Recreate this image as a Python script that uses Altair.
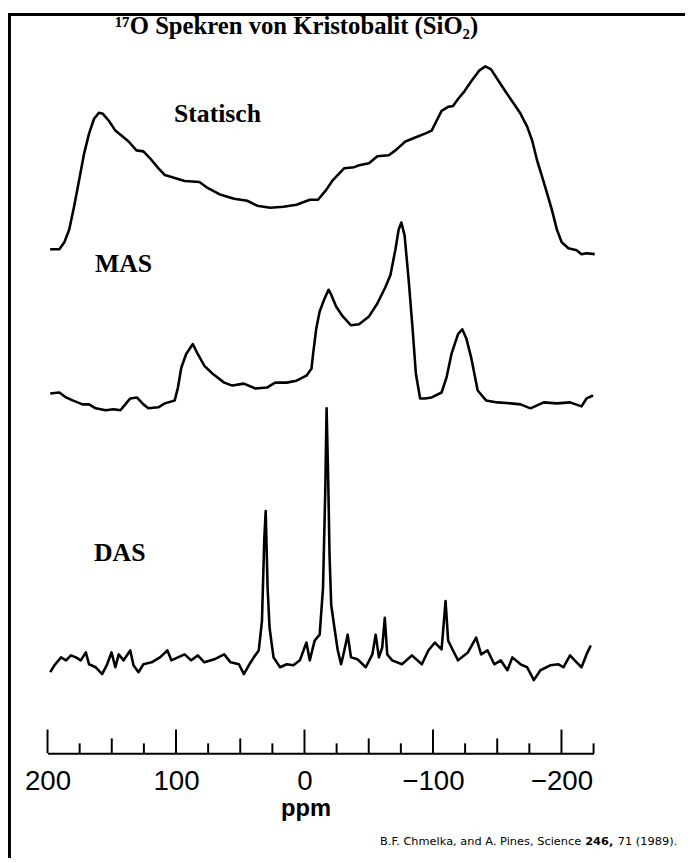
import altair as alt
import pandas as pd

# ---------------- data ----------------
# chemical shift (ppm) and intensity (arbitrary units, relative to baseline)
stat_ppm = [198, 190.8, 186.9, 183.1, 179.2, 175.4, 171.5, 167.7, 163.8, 160, 156.9, 152.3, 147.2,
            136.9, 130.8, 125.4, 120.2, 113.8, 108.7, 101, 93.3, 81.8, 75.4, 65.2, 54.8, 44.6, 36.9,
            26.7, 16.4, 6.2, -4.1, -10.5, -16.9, -22.1, -31, -38.7, -42.5, -50.2, -56.7, -65.6, -70.8,
            -78.5, -86.2, -93.8, -99, -102.8, -106.7, -111.8, -115.6, -119.5, -124.6, -129.8, -136.2,
            -140.8, -145.2, -150.2, -156.7, -163.1, -168.2, -173.3, -177.2, -181, -184.8, -188.7,
            -192.5, -196.4, -200.2, -205.4, -211.8, -215.6, -219.5, -225.9]
stat_int = [5, 5, 12, 25, 49, 75, 102, 122, 137, 143, 142, 135, 125,
            114, 105, 104, 97, 87, 80, 77, 74, 73, 67, 60, 56, 54, 49,
            47, 48, 50, 55, 55, 65, 75, 87, 88, 90, 92, 99, 100, 105,
            114, 118, 122, 125, 135, 145, 149, 150, 157, 165, 175, 186,
            190, 187, 177, 164, 152, 142, 129, 115, 95, 79, 62,
            45, 25, 12, 6, 4, 0, 1, 0]

mas_ppm = [197.9, 190.8, 185.6, 180.5, 172.8, 167.7, 162.5, 154.8, 148.5, 143.3, 139.5, 135.6, 130.5,
           125.4, 121.5, 113.8, 108.7, 101, 98.5, 95.9, 92.1, 86.9, 83.1, 77.9, 71.5, 62.5, 56.2,
           47.2, 38.2, 29.2, 22.8, 13.8, 6.2, -1.5, -5.4, -6.7, -9.2, -11.8, -15.6, -18.7, -20.8,
           -24.6, -29.8, -36.2, -42.5, -50.2, -56.7, -63.1, -66.9, -70.8, -73.3, -75.4, -77.9, -81,
           -84.1, -86.7, -90, -93.8, -99, -106.7, -110.5, -114.4, -119.5, -122.8, -125.9, -129.8,
           -134.8, -141.3, -150.2, -160.5, -168.2, -175.9, -186.2, -196.4, -206.7, -215.6, -219.5, -224.6]
mas_int = [12, 13, 8, 5, 1, 1, -3, -5, -4, -5, 1, 7, 8,
           1, -3, -2, 2, 5, 18, 38, 52, 62, 52, 40, 32, 23, 20,
           22, 17, 18, 23, 23, 25, 30, 37, 52, 78, 95, 108, 117, 112,
           100, 90, 81, 82, 90, 103, 120, 132, 158, 178, 185, 172, 128,
           78, 32, 7, 7, 8, 13, 28, 52, 72, 77, 68, 48,
           15, 5, 3, 2, 1, -3, 3, 2, 3, -1, 7, 10]

das_ppm = [197.9, 194.6, 189.5, 185.6, 181.8, 177.9, 174.1, 170.2, 167.7, 162.5, 157.5, 153.6, 150.2,
           147.2, 144.6, 140.8, 135.6, 133.1, 129.2, 125.4, 119, 112.5, 106.7, 103.6, 98.5, 93.3,
           88.2, 83.1, 77.9, 70.2, 62.5, 57.5, 51, 47.2, 43.3, 39.5, 35.6, 33.1, 31.3, 30.2, 28.7,
           27.2, 24.1, 19, 13.8, 8.7, 3.6, -1.5, -4.1, -7.9, -11.8, -14.4, -16.2, -17.2, -18.5,
           -19.5, -20.8, -23.3, -25.9, -28.5, -31, -33.6, -36.2, -41.3, -47.7, -52.8, -55.4, -57.9,
           -60.5, -62.5, -64.4, -68.2, -75.9, -83.6, -91.3, -96.4, -101.5, -106.7, -109.8, -111.8,
           -115.6, -119.5, -127.2, -133.6, -137.5, -142.5, -147.7, -152.8, -157.9, -161.8, -168.2,
           -173.3, -178.5, -183.6, -191.3, -197.7, -201.5, -206.7, -211.8, -215.6, -219.5, -222.8]
das_int = [-8, -1, 7, 4, 9, 7, 4, 12, 0, -3, -10, 0, 12,
           -3, 10, 4, 14, -1, -8, 0, 2, 7, 14, 4, 7, 10,
           4, 9, 2, 5, 10, 2, 0, -10, -1, 7, 14, 44, 127, 155, 77,
           37, 7, -3, 0, -1, 4, 22, 4, 24, 30, 77, 177, 259, 184,
           110, 60, 37, 14, 0, 14, 30, 7, 5, -3, 10, 30, 7,
           17, 47, 10, 4, 0, 9, 0, 14, 22, 15, 64, 24,
           14, 4, 12, 27, 10, 14, 0, 4, -6, 7, 0,
           -3, -16, -6, -1, 0, -3, 9, 2, -3, 10, 19]

spectra = ["Statisch", "MAS", "DAS"]
offsets = [505, 352, 90]          # vertical stacking of the three traces

tick_ppm = [200, 175, 150, 125, 100, 75, 50, 25, 0, -25, -50, -75, -100, -125, -150, -175, -200, -225]
tick_len = [24, 10, 15, 10, 24, 10, 15, 10, 24, 10, 15, 10, 24, 10, 15, 10, 24, 10]
label_ppm = [200, 100, 0, -100, -200]

# labels of the traces (ppm position, height)
lab_text = ["Statisch", "MAS", "DAS"]
lab_ppm = [67.7, 140.8, 143.8]
lab_y = [647, 495, 203]

# ---------------- build tables ----------------
rows = []
for name, off, pp, ii in zip(spectra, offsets, [stat_ppm, mas_ppm, das_ppm], [stat_int, mas_int, das_int]):
    for p, v in zip(pp, ii):
        rows.append({"spectrum": name, "ppm": p, "y": v + off})
df = pd.DataFrame(rows)
ticks = pd.DataFrame({"ppm": tick_ppm, "base": 0, "len": tick_len})
labs = pd.DataFrame({"text": lab_text, "ppm": lab_ppm, "y": lab_y})

W, H = 552.5, 749
xscale = alt.Scale(domain=[200, -225], nice=False, zero=False)
yscale = alt.Scale(domain=[0, H], nice=False, zero=False)

xaxis = alt.Axis(values=label_ppm, labelExpr="datum.value < 0 ? '\u2212' + abs(datum.value) : datum.value",
                 labelFont="Liberation Sans", labelFontSize=28, labelColor="black", labelFlush=False,
                 labelOverlap=False, labelBound=False, labelPadding=15,
                 domainColor="black", domainWidth=2, ticks=False, tickSize=0, grid=False,
                 title="ppm", titleFont="Liberation Sans", titleFontSize=24, titleFontWeight="bold",
                 titleColor="black", titlePadding=1, titleX=261)

lines = alt.Chart(df).mark_line(color="black", strokeWidth=2.6, strokeJoin="round").encode(
    x=alt.X("ppm:Q", scale=xscale, axis=xaxis),
    y=alt.Y("y:Q", scale=yscale, axis=None),
    detail="spectrum:N",
)

tick_rules = alt.Chart(ticks).mark_rule(color="black", strokeWidth=2).encode(
    x=alt.X("ppm:Q", scale=xscale),
    y=alt.Y("base:Q", scale=yscale),
    y2="len:Q",
)

trace_labels = alt.Chart(labs).mark_text(font="Liberation Serif", fontWeight="bold", fontSize=26,
                                         color="black", align="center", baseline="middle").encode(
    x=alt.X("ppm:Q", scale=xscale),
    y=alt.Y("y:Q", scale=yscale),
    text="text:N",
)

title = alt.Chart(pd.DataFrame({"t": ["\u00b9\u2077O Spekren von Kristobalit (SiO\u2082)"]})).mark_text(
    font="Liberation Serif", fontWeight="bold", fontSize=25, color="black", align="center",
    baseline="alphabetic").encode(x=alt.value(252), y=alt.value(21), text="t:N")

cite_font = "DejaVu Sans"
cite_size = 11.5
cite1 = alt.Chart(pd.DataFrame({"t": ["B.F. Chmelka, and A. Pines, Science"]})).mark_text(
    font=cite_font, fontSize=cite_size, color="black", align="right", baseline="alphabetic").encode(
    x=alt.value(540), y=alt.value(842), text="t:N")
cite2 = alt.Chart(pd.DataFrame({"t": ["246,"]})).mark_text(
    font=cite_font, fontSize=cite_size, fontWeight="bold", color="black", align="left",
    baseline="alphabetic").encode(x=alt.value(544), y=alt.value(842), text="t:N")
cite3 = alt.Chart(pd.DataFrame({"t": ["71 (1989)."]})).mark_text(
    font=cite_font, fontSize=cite_size, color="black", align="left", baseline="alphabetic").encode(
    x=alt.value(577), y=alt.value(842), text="t:N")

border_top = alt.Chart(pd.DataFrame({"a": [0]})).mark_rule(color="black", strokeWidth=3).encode(
    x=alt.value(-40), x2=alt.value(645), y=alt.value(1.5))
border_left = alt.Chart(pd.DataFrame({"a": [0]})).mark_rule(color="black", strokeWidth=3).encode(
    x=alt.value(-38.5), y=alt.value(0), y2=alt.value(855))

chart = alt.layer(lines, tick_rules, trace_labels, title, cite1, cite2, cite3, border_top, border_left).properties(
    width=W, height=H,
    padding={"left": 40, "top": 0, "right": 92.5, "bottom": 106},
    autosize=alt.AutoSizeParams(type="none"),
    background="white",
).configure_view(stroke=None)

chart.save("out.html", embed_options={"renderer": "svg", "actions": False})
